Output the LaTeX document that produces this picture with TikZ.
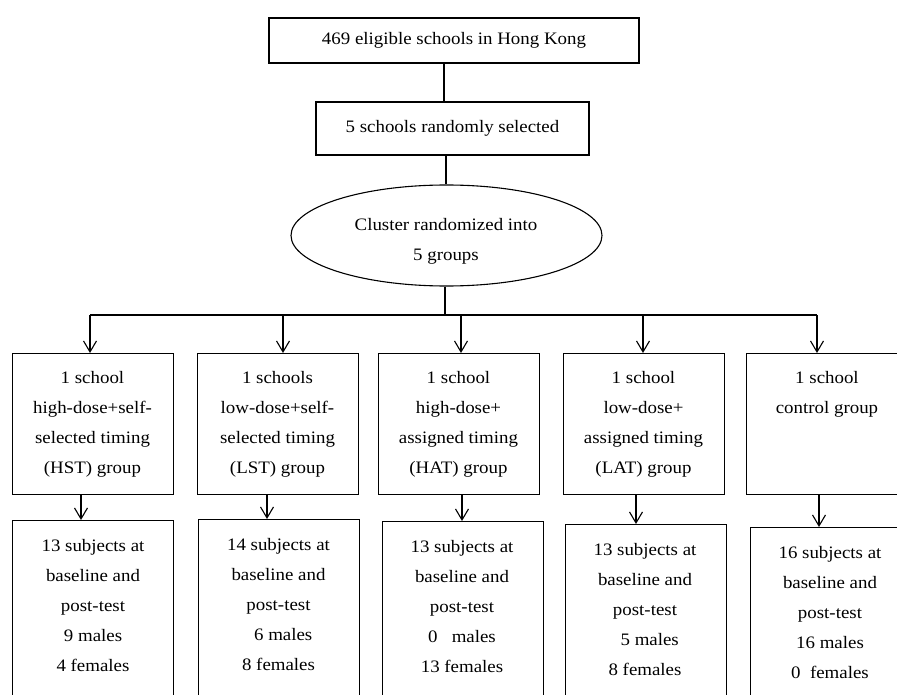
\documentclass[tikz,border=0pt]{standalone}
\usepackage{fontspec}
\setmainfont[FakeStretch=1.08]{Liberation Serif}
\usetikzlibrary{arrows.meta,shapes.geometric}
\begin{document}
\begin{tikzpicture}[x=1pt,y=-1pt, line width=1.1pt,
  fnt/.style={font=\fontsize{17.5}{30}\selectfont},
  box/.style={draw, rectangle, inner sep=0pt, anchor=north west, minimum width=161pt},
  txt/.style={fnt, align=center, inner sep=0pt, anchor=north},
  arr/.style={-{Straight Barb[length=11pt,width=13pt,line width=1.1pt]}}]
\clip (0,0) rectangle (897,695);
% top part
\node[draw, fnt, minimum width=370pt, minimum height=45pt, inner sep=0pt] (top) at (454,40.5) {469 eligible schools in Hong Kong};
\node[draw, fnt, minimum width=273pt, minimum height=53pt, inner sep=0pt] (sel) at (452.5,128.5) {5 schools randomly selected};
\node[draw, ellipse, minimum width=311pt, minimum height=101pt, inner sep=0pt] (ell) at (446.5,235.5) {};
\node[txt, anchor=center] (elltxt) at (446,241.5) {Cluster randomized into\\5 groups};
\coordinate (c1) at (444,0);
\coordinate (c2) at (446,0);
\coordinate (bus) at (445,315);
\draw (top.south -| c1) -- (sel.north -| c1);
\draw (sel.south -| c2) -- (ell.north -| c2);
\draw (ell.south -| bus) -- (bus);
% bus
\coordinate (a1) at (90,315);
\coordinate (a2) at (283,315);
\coordinate (a3) at (461,315);
\coordinate (a4) at (643,315);
\coordinate (a5) at (817,315);
\draw (a1) -- (a5);
% row 1 boxes
\node[box, minimum height=141pt] (g1) at (12,353) {};
\node[box, minimum height=141pt] (g2) at (197,353) {};
\node[box, minimum height=141pt] (g3) at (378,353) {};
\node[box, minimum height=141pt] (g4) at (563,353) {};
\node[box, minimum height=141pt] (g5) at (746,353) {};
\node[txt] (t1) at (92.5,371) {1 school\\high-dose+self-\\selected timing\\(HST) group};
\node[txt] (t2) at (277.5,371) {1 schools\\low-dose+self-\\selected timing\\(LST) group};
\node[txt] (t3) at (458.5,371) {1 school\\high-dose+\\assigned timing\\(HAT) group};
\node[txt] (t4) at (643.5,371) {1 school\\low-dose+\\assigned timing\\(LAT) group};
\node[txt] (t5) at (827,371) {1 school\\control group};
\draw[arr] (a1) -- (a1 |- g1.north);
\draw[arr] (a2) -- (a2 |- g2.north);
\draw[arr] (a3) -- (a3 |- g3.north);
\draw[arr] (a4) -- (a4 |- g4.north);
\draw[arr] (a5) -- (a5 |- g5.north);
% row 2 boxes
\node[box, minimum height=220pt] (h1) at (12,520) {};
\node[box, minimum height=220pt] (h2) at (198,519) {};
\node[box, minimum height=220pt] (h3) at (382,521) {};
\node[box, minimum height=220pt] (h4) at (565,524) {};
\node[box, minimum height=220pt] (h5) at (750,527) {};
\node[txt] (u1) at (93,539) {13 subjects at\\baseline and\\post-test\\9 males\\4 females};
\node[txt] (u2) at (278.5,538) {14 subjects at\\baseline and\\post-test\\\ \ 6 males\\8 females};
\node[txt] (u3) at (462,540) {13 subjects at\\baseline and\\post-test\\0\ \ \ males\\13 females};
\node[txt] (u4) at (645,543) {13 subjects at\\baseline and\\post-test\\\ \ 5 males\\8 females};
\node[txt] (u5) at (830,546) {16 subjects at\\baseline and\\post-test\\16 males\\0\ \ females};
\coordinate (d1) at (81,0);
\coordinate (d2) at (267,0);
\coordinate (d3) at (462,0);
\coordinate (d4) at (636,0);
\coordinate (d5) at (819,0);
\draw[arr] (g1.south -| d1) -- (h1.north -| d1);
\draw[arr] (g2.south -| d2) -- (h2.north -| d2);
\draw[arr] (g3.south -| d3) -- (h3.north -| d3);
\draw[arr] (g4.south -| d4) -- (h4.north -| d4);
\draw[arr] (g5.south -| d5) -- (h5.north -| d5);
\end{tikzpicture}
\end{document}
